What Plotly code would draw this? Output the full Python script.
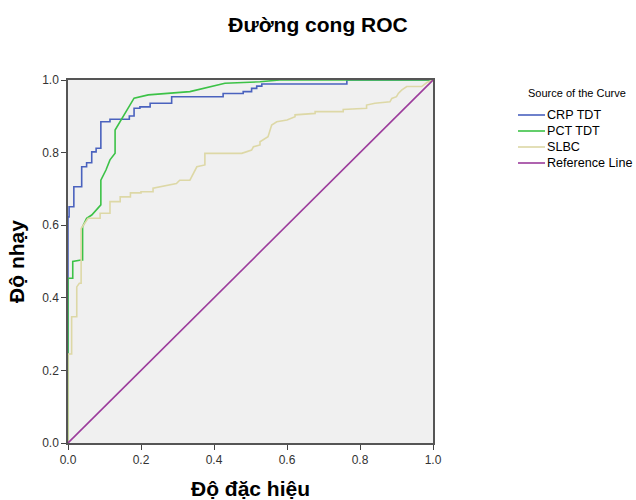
import plotly.graph_objects as go

# ---- data ----
crp_fpr = [0.0, 0.0, 0.003, 0.003, 0.016, 0.016, 0.0375, 0.0375, 0.051, 0.051, 0.065, 0.065,
           0.077, 0.077, 0.09, 0.09, 0.115, 0.115, 0.168, 0.168, 0.181, 0.181, 0.197, 0.197,
           0.225, 0.225, 0.284, 0.284, 0.425, 0.425, 0.48, 0.48, 0.503, 0.503, 0.517, 0.517,
           0.531, 0.531, 0.764, 0.764, 1.0]
crp_tpr = [0.0, 0.623, 0.623, 0.651, 0.651, 0.706, 0.706, 0.761, 0.761, 0.772, 0.772, 0.802,
           0.802, 0.812, 0.812, 0.885, 0.885, 0.892, 0.892, 0.901, 0.901, 0.922, 0.922, 0.926,
           0.926, 0.936, 0.936, 0.954, 0.954, 0.963, 0.963, 0.968, 0.968, 0.977, 0.977, 0.983,
           0.983, 0.989, 0.989, 1.0, 1.0]

pct_fpr = [0.0, 0.0, 0.013, 0.013, 0.036, 0.04, 0.04, 0.051, 0.065, 0.09, 0.09, 0.104,
           0.115, 0.129, 0.129, 0.181, 0.22, 0.334, 0.43, 0.526, 0.58, 1.0]
pct_tpr = [0.0, 0.454, 0.454, 0.50, 0.504, 0.504, 0.596, 0.619, 0.628, 0.656, 0.724, 0.752,
           0.78, 0.798, 0.862, 0.95, 0.959, 0.968, 0.991, 0.995, 1.0, 1.0]

slbc_fpr = [0.0, 0.0, 0.01, 0.01, 0.024, 0.024, 0.031, 0.036, 0.036, 0.055, 0.088, 0.088,
            0.115, 0.115, 0.143, 0.143, 0.171, 0.171, 0.20, 0.20, 0.233, 0.233, 0.297, 0.306,
            0.334, 0.339, 0.353, 0.375, 0.375, 0.476, 0.503, 0.508, 0.526, 0.526, 0.548, 0.558,
            0.572, 0.60, 0.622, 0.622, 0.677, 0.677, 0.754, 0.754, 0.818, 0.818, 0.841, 0.882,
            0.887, 0.90, 0.905, 0.914, 0.928, 0.969, 0.983, 1.0]
slbc_tpr = [0.0, 0.245, 0.245, 0.348, 0.348, 0.43, 0.44, 0.44, 0.591, 0.619, 0.619, 0.633,
            0.633, 0.665, 0.665, 0.678, 0.678, 0.689, 0.689, 0.692, 0.692, 0.702, 0.715, 0.724,
            0.724, 0.734, 0.761, 0.766, 0.798, 0.798, 0.807, 0.816, 0.821, 0.83, 0.844, 0.876,
            0.885, 0.89, 0.899, 0.904, 0.908, 0.913, 0.913, 0.919, 0.922, 0.931, 0.936, 0.94,
            0.949, 0.954, 0.963, 0.972, 0.982, 0.982, 0.993, 1.0]

ref_x = [0.0, 1.0]
ref_y = [0.0, 1.0]

series_names = ["CRP TDT", "PCT TDT", "SLBC", "Reference Line"]
series_colors = ["#4A62BE", "#3CC247", "#DDD8A6", "#9C3C9C"]
tick_vals = [0.0, 0.2, 0.4, 0.6, 0.8, 1.0]
legend_title = "Source of the Curve"

FONT = "Liberation Sans, Arial"

fig = go.Figure()
for name, xs, ys, col in zip(series_names,
                             [crp_fpr, pct_fpr, slbc_fpr, ref_x],
                             [crp_tpr, pct_tpr, slbc_tpr, ref_y],
                             series_colors):
    fig.add_trace(go.Scatter(x=xs, y=ys, mode="lines", name=name, showlegend=False,
                             line=dict(color=col, width=1.6)))

axis_common = dict(range=[0, 1], tickvals=tick_vals, tickformat=".1f",
                   ticks="outside", ticklen=5, tickcolor="#444", tickwidth=1.2,
                   showgrid=False, zeroline=False, showline=True, linecolor="#555",
                   linewidth=1.5, mirror=True, automargin=False,
                   tickfont=dict(family=FONT, size=12, color="#333"))

# body margin is removed by post_script, so page pixels == figure pixels
OFF = 0
W, H = 636 - OFF, 500 - OFF
# plot area in page pixels: left 68, right 433, top 80, bottom 443
L, R, T, B = 68 - OFF, 433 - OFF, 80 - OFF, 443 - OFF
pw, ph = R - L, B - T

def px_x(p):  # page pixel -> paper x
    return (p - OFF - L) / pw

def px_y(p):  # page pixel -> paper y
    return (B - (p - OFF)) / ph

shapes = []
annotations = []
annotations.append(dict(text=legend_title, x=px_x(577), y=px_y(93), xref="paper", yref="paper",
                        xanchor="center", yanchor="middle", showarrow=False,
                        font=dict(family=FONT, size=11, color="black")))
for i, (name, col) in enumerate(zip(series_names, series_colors)):
    yc = 115 + 16 * i
    shapes.append(dict(type="line", xref="paper", yref="paper",
                       x0=px_x(518), x1=px_x(545), y0=px_y(yc), y1=px_y(yc),
                       line=dict(color=col, width=1.6)))
    annotations.append(dict(text=name, x=px_x(545), y=px_y(yc), xref="paper", yref="paper",
                            xanchor="left", yanchor="middle", showarrow=False,
                            font=dict(family=FONT, size=12.6, color="black")))

fig.update_layout(
    width=W, height=H,
    margin=dict(l=L, r=W - R, t=T, b=H - B),
    paper_bgcolor="white", plot_bgcolor="#F0F0F0",
    title=dict(text="<b>Đường cong ROC</b>", x=(318 - OFF) / W, xanchor="center",
               y=1 - (25 - OFF) / H, yanchor="middle",
               font=dict(family=FONT, size=21, color="black")),
    xaxis=dict(**axis_common,
               title=dict(text="<b>Độ đặc hiệu</b>", standoff=17,
                          font=dict(family=FONT, size=21, color="black"))),
    yaxis=dict(**axis_common,
               title=dict(text="<b>Độ nhạy</b>", standoff=12,
                          font=dict(family=FONT, size=21, color="black"))),
    shapes=shapes,
    annotations=annotations,
    showlegend=False,
)

fig.write_html("out.html", config={"displayModeBar": False},
               post_script="document.body.style.margin='0';document.body.style.overflow='hidden';")
